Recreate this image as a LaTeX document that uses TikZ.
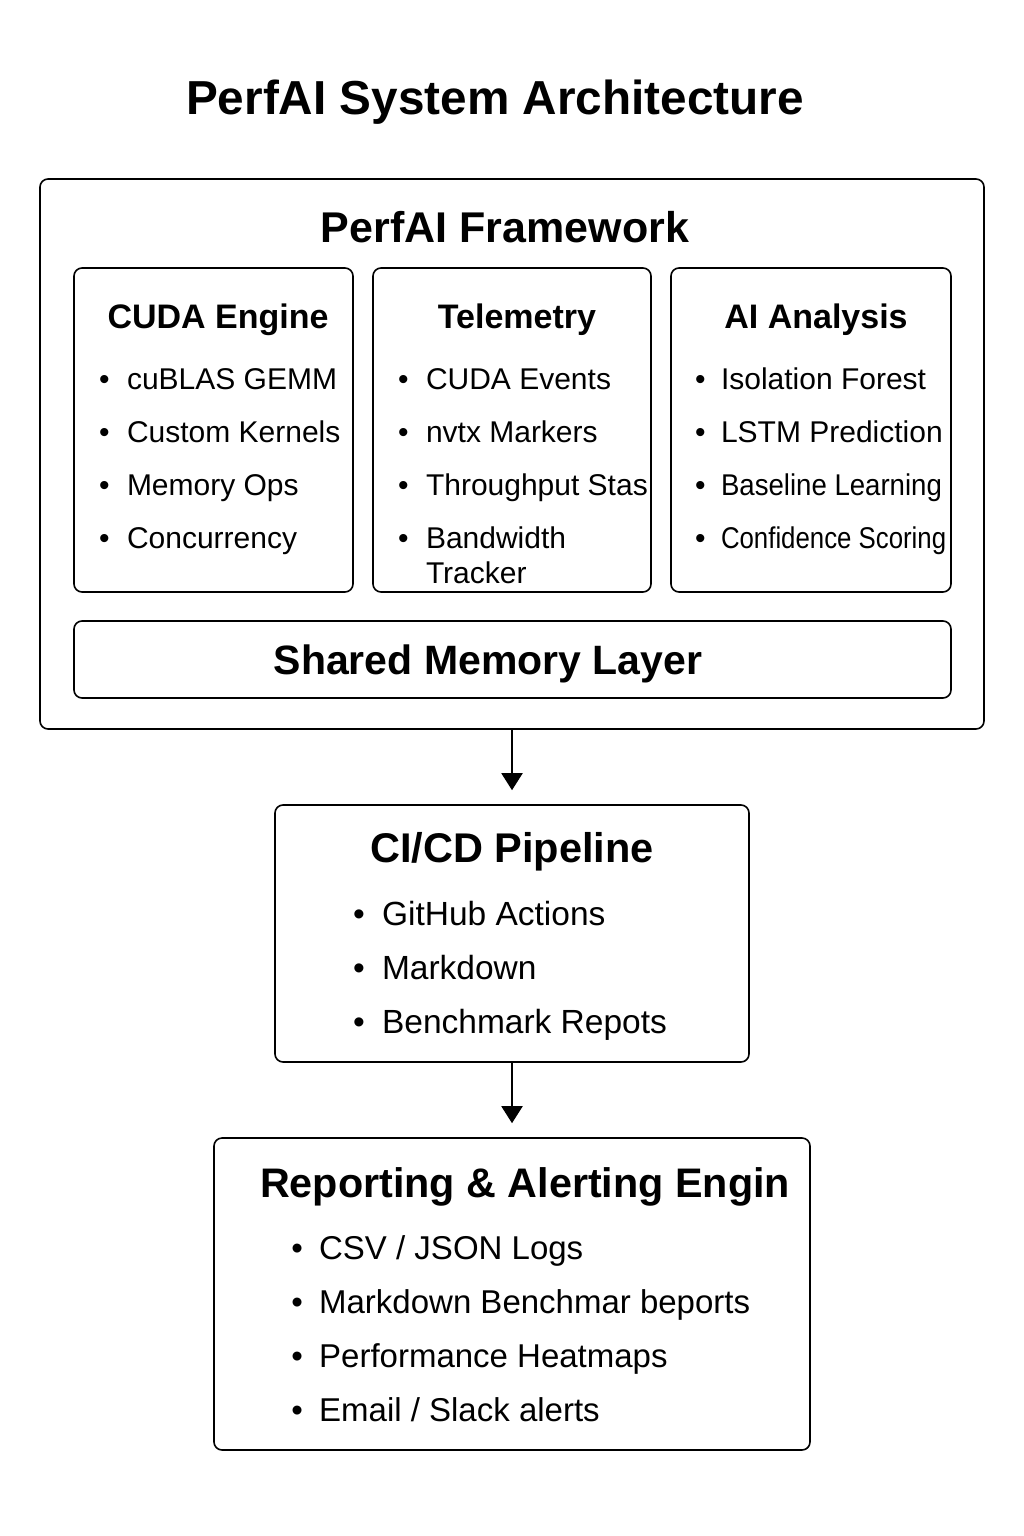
\documentclass[tikz,border=0pt]{standalone}
\usepackage{fontspec}
\setmainfont{Liberation Sans}
\usetikzlibrary{matrix,arrows.meta}
\begin{document}
\begin{tikzpicture}[x=1pt,y=-1pt,
box/.style={draw, line width=1.6pt, rounded corners=8pt, inner sep=0pt},
head/.style={anchor=base, inner sep=0pt, font=\bfseries\fontsize{#1}{#1}\selectfont},
list/.style={matrix of nodes, anchor=north west, inner sep=0pt, outer sep=0pt,
    nodes={anchor=base west, inner sep=0pt, text height=22pt, text depth=6pt,
    font=\fontsize{#1}{#1}\selectfont}},
flow/.style={-{Triangle[length=17pt,width=21pt]}, line width=2pt, shorten >=14pt}]
\useasboundingbox (0,0) rectangle (1024,1536);
\node[head=47.7] (title) at (495,114) {PerfAI System Architecture};
\node[box, minimum width=944pt, minimum height=550pt] (frame) at (512,454) {};
\node[head=43] (framehead) at (505,242.5) {PerfAI Framework};
\node[box, minimum width=279pt, minimum height=324pt] (cuda) at (213.5,430) {};
\node[box, minimum width=278pt, minimum height=324pt] (telem) at (512,430) {};
\node[box, minimum width=280pt, minimum height=324pt] (ai) at (811,430) {};
\node[head=34] (cudahead) at (218,328) {CUDA Engine};
\node[head=34] (telemhead) at (517,328) {Telemetry};
\node[head=34] (aihead) at (816,328) {AI Analysis};
\matrix[list=30, row sep=25.3pt, column sep=17.5pt] (cudalist) at (99,367) {
\textbullet & cuBLAS GEMM\\
\textbullet & Custom Kernels\\
\textbullet & Memory Ops\\
\textbullet & Concurrency\\};
\matrix[list=30, row sep=25.3pt, column sep=17.5pt] (telemlist) at (398,367) {
\textbullet & CUDA Events\\
\textbullet & nvtx Markers\\
\textbullet & Throughput Stas\\
\textbullet & Bandwidth\\[-18.3pt]
 & Tracker\\};
\matrix[list=30, row sep=25.3pt, column sep=15.5pt] (ailist) at (695,367) {
\textbullet & Isolation Forest\\
\textbullet & LSTM Prediction\\
\textbullet & \scalebox{0.92}[1]{Baseline Learning}\\
\textbullet & \scalebox{0.86}[1]{Confidence Scoring}\\};
\node[box, minimum width=877pt, minimum height=77pt] (shared) at (512.5,659.5) {};
\node[head=41] (sharedhead) at (488,674.5) {Shared Memory Layer};
\node[box, minimum width=474pt, minimum height=257pt] (cicd) at (512,933.5) {};
\node[head=41.5] (cicdhead) at (512,862) {CI/CD Pipeline};
\matrix[list=33.5, row sep=26pt, column sep=17.3pt] (cicdlist) at (353,903) {
\textbullet & GitHub Actions\\
\textbullet & Markdown\\
\textbullet & Benchmark Repots\\};
\node[box, minimum width=596pt, minimum height=312pt] (report) at (512,1294) {};
\node[head=41.3] (reporthead) at (525,1197) {Reporting \& Alerting Engin};
\matrix[list=33, row sep=26pt, column sep=16.3pt] (reportlist) at (291.3,1237) {
\textbullet & CSV / JSON Logs\\
\textbullet & Markdown Benchmar beports\\
\textbullet & Performance Heatmaps\\
\textbullet & Email / Slack alerts\\};
\draw[flow] (frame.south) -- (cicd.north);
\draw[flow] (cicd.south) -- (report.north);
\end{tikzpicture}
\end{document}
